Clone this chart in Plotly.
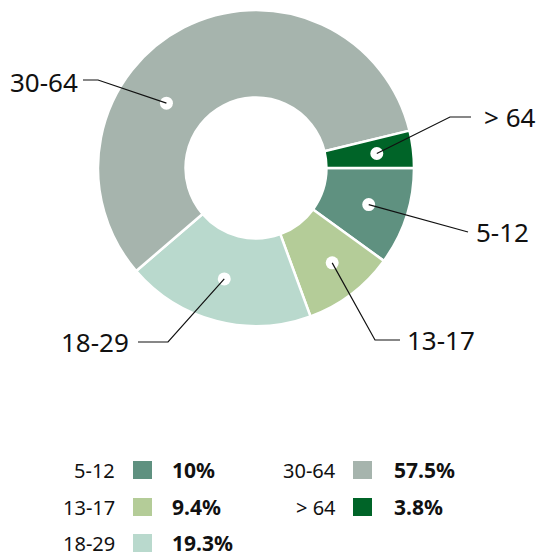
import math
import plotly.graph_objects as go

# ---- data ----
categories = ["5-12", "13-17", "18-29", "30-64", "> 64"]
shares = [10.0, 9.4, 19.3, 57.5, 3.8]
value_labels = ["10%", "9.4%", "19.3%", "57.5%", "3.8%"]
colors = ["#5f9180", "#b4cc98", "#b9d9cd", "#a6b4ad", "#006428"]

# ---- layout/style (pixels) ----
W, H = 539, 557
CX, CY, R = 256, 168, 158
HOLE = 0.446
FONT = "Noto Sans"

def px(x):
    return x / W

def py(y):
    return 1 - y / H

# dot placement inside each slice: fraction along slice span, radius fraction
dot_t = [0.5, 0.45, 0.52, 0.37, 0.5]
dot_r = [0.75, 0.77, 0.73, 0.70, 0.77]
# leader routes (pixel waypoints after the dot) and label anchors
leader_pts = [
    [(468, 232)],
    [(375, 340), (400, 340)],
    [(168, 342), (138, 342)],
    [(98, 80), (83, 80)],
    [(450, 117), (471, 117)],
]
label_pos = [(474, 232, "left"), (405, 340, "left"), (131, 342, "right"),
             (80, 82, "right"), (482, 117, "left")]

# legend layout
leg_rows = [470, 507, 543]
leg_cols = [(117, 133, 170), (338, 353, 392)]
leg_slot = [(0, 0), (0, 1), (0, 2), (1, 0), (1, 1)]

fig = go.Figure(go.Pie(
    labels=categories, values=shares, sort=False, direction="clockwise",
    rotation=90, hole=HOLE, textinfo="none", hoverinfo="label+percent",
    marker=dict(colors=colors, line=dict(color="white", width=2.5)),
    domain=dict(x=[px(CX - R), px(CX + R)], y=[py(CY + R), py(CY - R)]),
    showlegend=False,
))

shapes = []
annotations = []
total = sum(shares)
cum = 0.0
for i, v in enumerate(shares):
    start = cum / total * 360
    span = v / total * 360
    cum += v
    ang = math.radians(start + dot_t[i] * span)  # clockwise from 3 o'clock
    rr = dot_r[i] * R
    dx, dy = CX + rr * math.cos(ang), CY + rr * math.sin(ang)
    d = 6.5
    shapes.append(dict(type="circle", xref="paper", yref="paper",
                       x0=px(dx - d), x1=px(dx + d), y0=py(dy + d), y1=py(dy - d),
                       fillcolor="white", line=dict(width=0)))
    pts = [(dx, dy)] + leader_pts[i]
    path = "M " + " L ".join(f"{px(x)},{py(y)}" for x, y in pts)
    shapes.append(dict(type="path", xref="paper", yref="paper", path=path,
                       line=dict(color="#111111", width=1.2)))
    lx, ly, anchor = label_pos[i]
    annotations.append(dict(x=px(lx), y=py(ly), xref="paper", yref="paper",
                            text=categories[i], showarrow=False,
                            xanchor=anchor, yanchor="middle",
                            font=dict(family=FONT, size=26, color="#111111")))
    # legend entry
    c, r = leg_slot[i]
    lab_x, sq_x, val_x = leg_cols[c]
    ry = leg_rows[r]
    annotations.append(dict(x=px(lab_x), y=py(ry), xref="paper", yref="paper",
                            text=categories[i], showarrow=False,
                            xanchor="right", yanchor="middle",
                            font=dict(family=FONT, size=20, color="#111111")))
    shapes.append(dict(type="rect", xref="paper", yref="paper",
                       x0=px(sq_x), x1=px(sq_x + 19), y0=py(ry + 9), y1=py(ry - 9),
                       fillcolor=colors[i], line=dict(width=0)))
    annotations.append(dict(x=px(val_x), y=py(ry), xref="paper", yref="paper",
                            text="<b>" + value_labels[i] + "</b>", showarrow=False,
                            xanchor="left", yanchor="middle",
                            font=dict(family=FONT, size=21, color="#111111")))

fig.update_layout(
    width=W, height=H, margin=dict(l=0, r=0, t=0, b=0),
    paper_bgcolor="white", plot_bgcolor="white",
    shapes=shapes, annotations=annotations,
)
fig.write_html(
    "out.html",
    config={"displayModeBar": False},
    post_script="document.body.style.margin='0';document.body.style.overflow='hidden';",
)
